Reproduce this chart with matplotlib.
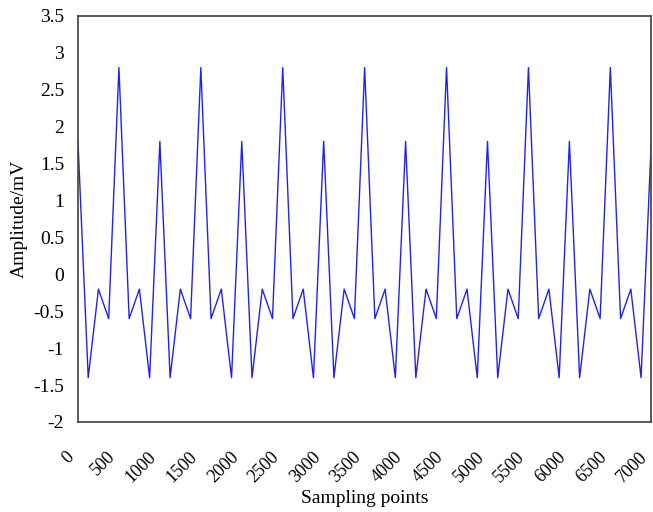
import numpy as np
import matplotlib
matplotlib.use('Agg')
import matplotlib.pyplot as plt

plt.rcParams['font.family'] = ['Liberation Serif', 'DejaVu Serif']

# sample index of each vertex in the trace
sample_idx = np.arange(0, 7001, 125)

# amplitude (mV), one value per vertex
amplitude = [
    1.8, -1.4, -0.2, -0.6, 2.8, -0.6, -0.2, -1.4,
    1.8, -1.4, -0.2, -0.6, 2.8, -0.6, -0.2, -1.4,
    1.8, -1.4, -0.2, -0.6, 2.8, -0.6, -0.2, -1.4,
    1.8, -1.4, -0.2, -0.6, 2.8, -0.6, -0.2, -1.4,
    1.8, -1.4, -0.2, -0.6, 2.8, -0.6, -0.2, -1.4,
    1.8, -1.4, -0.2, -0.6, 2.8, -0.6, -0.2, -1.4,
    1.8, -1.4, -0.2, -0.6, 2.8, -0.6, -0.2, -1.4,
    1.8,
]

x_ticks = [0, 500, 1000, 1500, 2000, 2500, 3000, 3500,
           4000, 4500, 5000, 5500, 6000, 6500, 7000]
y_ticks = [-2, -1.5, -1, -0.5, 0, 0.5, 1, 1.5, 2, 2.5, 3, 3.5]
y_labels = ['-2', '-1.5', '-1', '-0.5', '0', '0.5', '1', '1.5',
            '2', '2.5', '3', '3.5']

fig = plt.figure(figsize=(6.53, 5.12), dpi=100)
ax = fig.add_axes([0.1194, 0.1758, 0.878, 0.793])

ax.plot(sample_idx, amplitude, color='#2020ff', linewidth=1.0)

ax.set_xlim(0, 7000)
ax.set_ylim(-2, 3.5)
ax.set_xticks(x_ticks)
ax.set_xticklabels([str(t) for t in x_ticks], rotation=45, ha='right')
ax.set_yticks(y_ticks)
ax.set_yticklabels(y_labels)
ax.tick_params(axis='x', length=0, pad=19, labelsize=13)
ax.tick_params(axis='y', length=0, pad=10, labelsize=14)

for s in ax.spines.values():
    s.set_color('#404040')
    s.set_linewidth(1.2)

ax.set_xlabel('Sampling points', fontsize=14)
ax.xaxis.label.set_va('baseline')
ax.xaxis.set_label_coords(0.5, -0.199)
ax.set_ylabel('Amplitude/mV', fontsize=14, labelpad=4)

fig.savefig('out.png', dpi=100)
